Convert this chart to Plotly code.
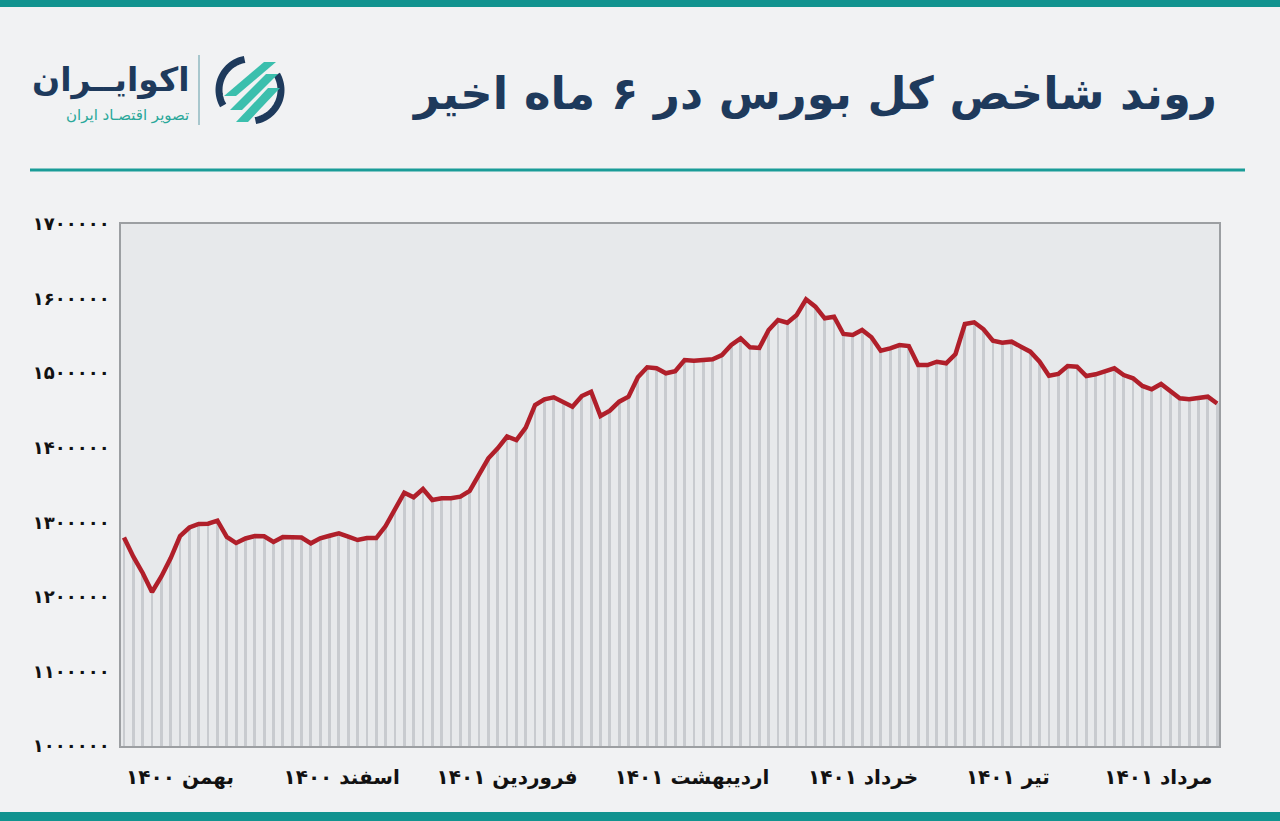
import numpy as np
import plotly.graph_objects as go

# ---------------- data ----------------
index_values = [
    1279600, 1253800, 1232000, 1206500, 1227300, 1252100, 1281600, 1293000, 1297700, 1298100,
    1302100, 1280300, 1272200, 1278300, 1281600, 1281200, 1273600, 1280300, 1280000, 1279600,
    1271800, 1278500, 1282000, 1285200, 1280700, 1276200, 1278900, 1278900, 1295000, 1317400,
    1339700, 1333500, 1344600, 1329900, 1332200, 1332200, 1334300, 1342000, 1363400, 1385800,
    1399200, 1415000, 1410300, 1427100, 1457300, 1464900, 1467600, 1461300, 1455000, 1469300,
    1475100, 1442500, 1449600, 1461700, 1468400, 1494400, 1507800, 1506500, 1499800, 1502500,
    1517600, 1516700, 1517600, 1518600, 1524300, 1537700, 1546700, 1534700, 1533700, 1557900,
    1571300, 1567600, 1578000, 1599000, 1589100, 1573500, 1575700, 1552500, 1551100, 1557900,
    1548100, 1530100, 1533300, 1537700, 1536400, 1510900, 1510900, 1515300, 1513200, 1525700,
    1565900, 1568200, 1558800, 1543500, 1540800, 1542200, 1535500, 1528800, 1515300, 1496600,
    1498900, 1509600, 1508600, 1496200, 1498400, 1501900, 1506500, 1497500, 1493100, 1482800,
    1478300, 1485400, 1476500, 1466300, 1464900, 1466700, 1468400, 1459300,
]
day_index = list(range(len(index_values)))

month_positions = [6.0, 23.3, 41.0, 60.8, 79.1, 94.6, 110.7]
month_labels = ["بهمن ۱۴۰۰", "اسفند ۱۴۰۰", "فروردین ۱۴۰۱", "اردیبهشت ۱۴۰۱",
                "خرداد ۱۴۰۱", "تیر ۱۴۰۱", "مرداد ۱۴۰۱"]

y_tick_values = [1000000, 1100000, 1200000, 1300000, 1400000, 1500000, 1600000, 1700000]
y_tick_labels = ["۱۰۰۰۰۰۰", "۱۱۰۰۰۰۰", "۱۲۰۰۰۰۰", "۱۳۰۰۰۰۰",
                 "۱۴۰۰۰۰۰", "۱۵۰۰۰۰۰", "۱۶۰۰۰۰۰", "۱۷۰۰۰۰۰"]

title_text = "روند شاخص کل بورس در ۶ ماه اخیر"
brand_text = "اکوایــران"
brand_sub = "تصویر اقتصـاد ایران"

# ---------------- layout geometry ----------------
W, H = 1280, 821
PL, PR, PT, PB = 121, 1219, 224, 746
TEAL = "#11938f"
NAVY = "#1e3a5c"
FONT = "DejaVu Sans"


def px(x):
    return (x - PL) / (PR - PL)


def py(y):
    return (PB - y) / (PB - PT)


fig = go.Figure()

fig.add_trace(go.Bar(
    x=day_index,
    y=[v - 1000000 for v in index_values],
    base=1000000,
    width=0.3,
    marker=dict(color="#c8cbcf", line=dict(width=0)),
    hoverinfo="skip",
    showlegend=False,
))

fig.add_trace(go.Scatter(
    x=day_index,
    y=index_values,
    mode="lines",
    line=dict(color="#b01f2a", width=4.5),
    showlegend=False,
))

shapes = []
# top and bottom teal bands
shapes.append(dict(type="rect", xref="paper", yref="paper", x0=px(0), x1=px(W),
                   y0=py(0), y1=py(7), fillcolor=TEAL, line=dict(width=0), layer="above"))
shapes.append(dict(type="rect", xref="paper", yref="paper", x0=px(0), x1=px(W),
                   y0=py(812), y1=py(821), fillcolor=TEAL, line=dict(width=0), layer="above"))
# separator line under header
shapes.append(dict(type="line", xref="paper", yref="paper", x0=px(30), x1=px(1245),
                   y0=py(170), y1=py(170), line=dict(color="#1a9c97", width=3)))
# logo vertical separator
shapes.append(dict(type="line", xref="paper", yref="paper", x0=px(199), x1=px(199),
                   y0=py(55), y1=py(125), line=dict(color="#8fb9c0", width=1.5)))


def path_from(points, close=False):
    s = "M " + " L ".join(f"{px(x):.5f},{py(y):.5f}" for x, y in points)
    return s + (" Z" if close else "")


# logo icon: navy arcs + teal stripes
cx, cy, r = 250, 90, 31
for a0, a1 in [(100, 210), (280, 390)]:
    ang = np.radians(np.linspace(a0, a1, 30))
    pts = [(cx + r * np.cos(a), cy - r * np.sin(a)) for a in ang]
    shapes.append(dict(type="path", xref="paper", yref="paper", path=path_from(pts),
                       line=dict(color=NAVY, width=7)))
for k, (ytop, ybot) in enumerate([(62, 96), (74, 110), (88, 122)]):
    p = [(224 + k * 6, ybot), (236 + k * 6, ybot), (276 + k * 2, ytop), (264 + k * 2, ytop)]
    shapes.append(dict(type="path", xref="paper", yref="paper", path=path_from(p, True),
                       fillcolor="#3bbfad", line=dict(width=0)))

annotations = [
    dict(text=title_text, xref="paper", yref="paper", x=px(1219), y=py(93),
         xanchor="right", yanchor="middle", showarrow=False,
         font=dict(family=FONT, size=45, color=NAVY, weight="bold")),
    dict(text=brand_text, xref="paper", yref="paper", x=px(191), y=py(80),
         xanchor="right", yanchor="middle", showarrow=False,
         font=dict(family=FONT, size=33, color=NAVY, weight="bold")),
    dict(text=brand_sub, xref="paper", yref="paper", x=px(191), y=py(115),
         xanchor="right", yanchor="middle", showarrow=False,
         font=dict(family=FONT, size=15, color="#2aa89a")),
]

fig.update_layout(
    width=W, height=H,
    margin=dict(l=PL, r=W - PR, t=PT, b=H - PB, pad=0),
    paper_bgcolor="#f1f2f3",
    plot_bgcolor="#e7e9eb",
    bargap=0,
    shapes=shapes,
    annotations=annotations,
    xaxis=dict(
        range=[-0.32, 117.2],
        tickvals=month_positions,
        ticktext=month_labels,
        showgrid=False, zeroline=False,
        showline=True, mirror=True, linecolor="#9c9fa2", linewidth=1.5,
        ticks="", ticklabelstandoff=12,
        tickfont=dict(family=FONT, size=20, color="#111111", weight="bold"),
    ),
    yaxis=dict(
        range=[1000000, 1700000],
        tickvals=y_tick_values,
        ticktext=y_tick_labels,
        showgrid=False, zeroline=False,
        showline=True, mirror=True, linecolor="#9c9fa2", linewidth=1.5,
        ticks="", ticklabelstandoff=6,
        tickfont=dict(family=FONT, size=18, color="#111111", weight="bold"),
    ),
)

fig.write_html("out.html", config={"displayModeBar": False},
               post_script="document.body.style.margin='0';")
